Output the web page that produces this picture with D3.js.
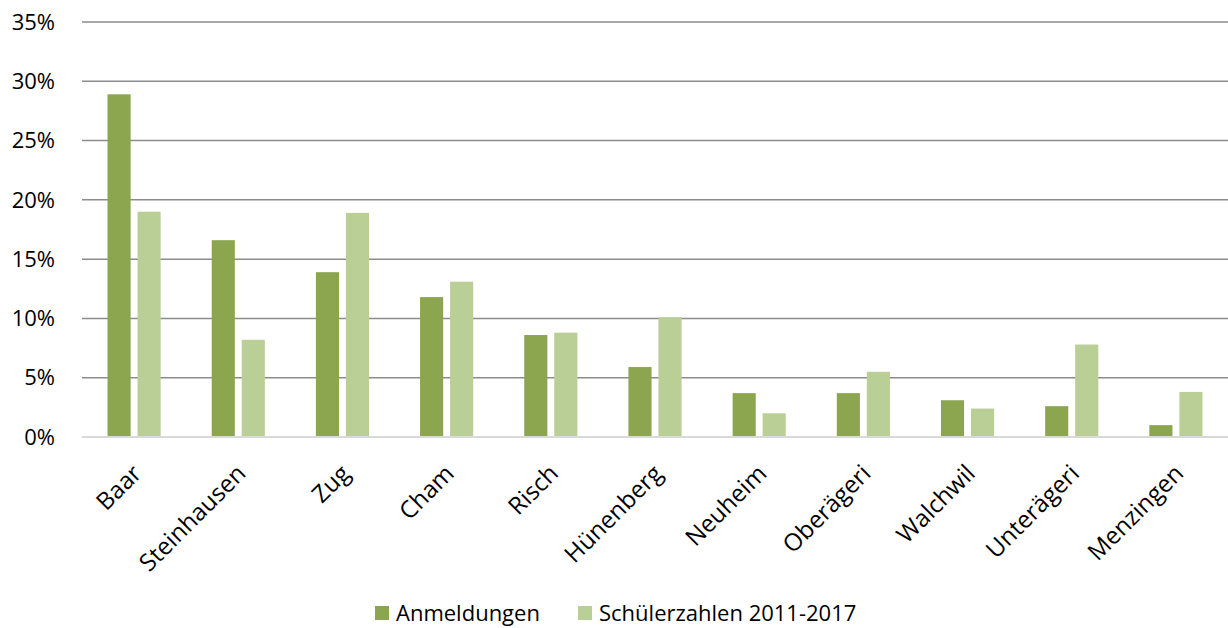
<!DOCTYPE html>
<html>
<head>
<meta charset="utf-8">
<script src="https://cdn.jsdelivr.net/npm/d3@7"></script>
<style>
  body { margin: 0; background: #fff; }
  text { font-family: "Open Sans", sans-serif; fill: #000; }
</style>
</head>
<body>
<div id="chart"></div>
<script>
var categories = ["Baar", "Steinhausen", "Zug", "Cham", "Risch", "Hünenberg", "Neuheim", "Oberägeri", "Walchwil", "Unterägeri", "Menzingen"];
var anmeldungen = [28.9, 16.6, 13.9, 11.8, 8.6, 5.9, 3.7, 3.7, 3.1, 2.6, 1.0];
var schuelerzahlen = [19.0, 8.2, 18.9, 13.1, 8.8, 10.1, 2.0, 5.5, 2.4, 7.8, 3.8];
var yTicks = [0, 5, 10, 15, 20, 25, 30, 35];
var seriesNames = ["Anmeldungen", "Schülerzahlen 2011-2017"];
var colors = ["#8ba64f", "#b9cf96"];

var W = 1228, H = 628;
var margin = {top: 22, right: 0, bottom: 191, left: 82},
    width = W - margin.left - margin.right,
    height = H - margin.top - margin.bottom;

var svg = d3.select("#chart")
  .append("svg")
    .attr("width", W)
    .attr("height", H);

var g = svg.append("g")
    .attr("transform", "translate(" + margin.left + "," + margin.top + ")");

var x = d3.scaleBand()
  .domain(categories)
  .range([0, width])
  .paddingInner(0.49)
  .paddingOuter(0.245);

var xSub = d3.scaleBand()
  .domain([0, 1])
  .range([0, x.bandwidth()])
  .paddingInner(0.23);

var y = d3.scaleLinear()
  .domain([0, 35])
  .range([height, 0]);

// gridlines
g.selectAll(".grid")
  .data(yTicks.filter(function(d){ return d > 0; }))
  .enter().append("line")
    .attr("x1", 0)
    .attr("x2", width)
    .attr("y1", function(d){ return y(d); })
    .attr("y2", function(d){ return y(d); })
    .attr("stroke", "#8c8c8c")
    .attr("stroke-width", 1.5);

// y labels
g.selectAll(".ylab")
  .data(yTicks)
  .enter().append("text")
    .attr("x", -27)
    .attr("y", function(d){ return y(d); })
    .attr("dy", "0.35em")
    .attr("text-anchor", "end")
    .attr("font-size", "22px")
    .text(function(d){ return d + "%"; });

// bars
var rows = categories.map(function(c, i){ return {cat: c, vals: [anmeldungen[i], schuelerzahlen[i]]}; });

var grp = g.selectAll(".cat")
  .data(rows)
  .enter().append("g")
    .attr("transform", function(d){ return "translate(" + x(d.cat) + ",0)"; });

grp.selectAll("rect")
  .data(function(d){ return d.vals.map(function(v, k){ return {k: k, v: v}; }); })
  .enter().append("rect")
    .attr("x", function(d){ return xSub(d.k); })
    .attr("y", function(d){ return y(d.v); })
    .attr("width", xSub.bandwidth())
    .attr("height", function(d){ return height - y(d.v); })
    .attr("fill", function(d){ return colors[d.k]; });

// baseline
g.append("line")
  .attr("x1", 0)
  .attr("x2", width)
  .attr("y1", y(0))
  .attr("y2", y(0))
  .attr("stroke", "#d9d9d9")
  .attr("stroke-width", 2);

// x labels
g.selectAll(".xlab")
  .data(categories)
  .enter().append("text")
    .attr("font-size", "24px")
    .attr("text-anchor", "end")
    .attr("transform", function(d){
      var cx = x(d) + x.bandwidth() / 2 + 3;
      return "translate(" + cx + "," + (height + 32) + ") rotate(-45)";
    })
    .attr("dy", "0.35em")
    .text(function(d){ return d; });

// legend
var legendX = [375, 578];
var legend = svg.selectAll(".legend")
  .data(seriesNames)
  .enter().append("g")
    .attr("transform", function(d, i){ return "translate(" + legendX[i] + ",606)"; });

legend.append("rect")
  .attr("width", 14)
  .attr("height", 14)
  .attr("fill", function(d, i){ return colors[i]; });

legend.append("text")
  .attr("x", 21)
  .attr("y", 7)
  .attr("dy", "0.35em")
  .attr("font-size", "22px")
  .text(function(d){ return d; });
</script>
</body>
</html>
